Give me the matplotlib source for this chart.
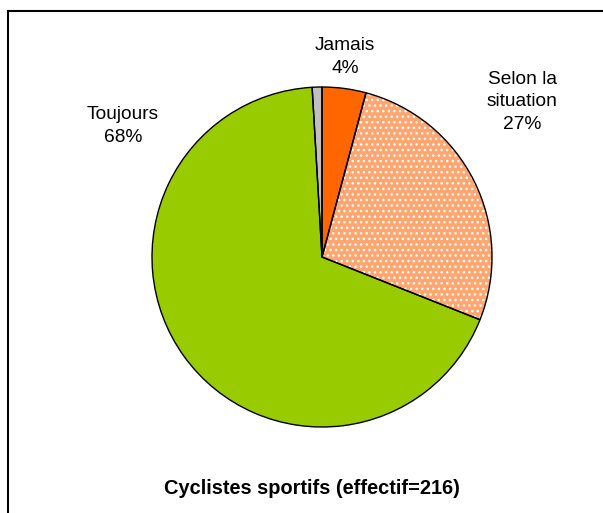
import matplotlib.pyplot as plt
from matplotlib.lines import Line2D

plt.rcParams['font.family'] = ['Liberation Sans', 'DejaVu Sans']
plt.rcParams['hatch.color'] = 'white'
plt.rcParams['hatch.linewidth'] = 1.0

# answers, counts out of 216
labels = ['Jamais', 'Selon la\nsituation', 'Toujours', '']
counts = [9, 58, 147, 2]
colors = ['#FF6600', '#FFA670', '#99CC00', '#C0C0C0']
hatches = [None, '...', None, None]
# label centres in pixels (x, y from top)
label_pos = [(345, 57), (522, 102), (123, 126), None]

W, H = 603, 513
fig = plt.figure(figsize=(W / 100, H / 100), dpi=100)

cx, cy, r = 322, 257, 170
ax = fig.add_axes([(cx - r) / W, (H - cy - r) / H, 2 * r / W, 2 * r / H])

wedges, _ = ax.pie(counts, colors=colors, startangle=90, counterclock=False,
                   radius=1)
for w, h in zip(wedges, hatches):
    if h:
        w.set_hatch(h)
# outlines on top
ax.pie(counts, startangle=90, counterclock=False, radius=1,
       wedgeprops=dict(fill=False, edgecolor='black', linewidth=1.0))
ax.set_xlim(-1.0, 1.0)
ax.set_ylim(-1.0, 1.0)
ax.set_aspect('equal')
ax.axis('off')

total = sum(counts)
for lab, c, pos in zip(labels, counts, label_pos):
    if pos is None:
        continue
    pct = round(100 * c / total)
    fig.text(pos[0] / W, 1 - pos[1] / H, f'{lab}\n{pct}%', ha='center',
             va='center', fontsize=13.8, linespacing=1.45)

fig.text(312 / W, 1 - 489 / H, 'Cyclistes sportifs (effectif=216)',
         ha='center', va='center', fontsize=14.4, fontweight='bold')

# chart frame (cut at right and bottom)
fig.add_artist(Line2D([8 / W, 1.0], [1 - 11 / H, 1 - 11 / H], color='black', lw=1.5))
fig.add_artist(Line2D([8 / W, 8 / W], [0.0, 1 - 11 / H], color='black', lw=1.5))

fig.savefig('out.png', dpi=100)
